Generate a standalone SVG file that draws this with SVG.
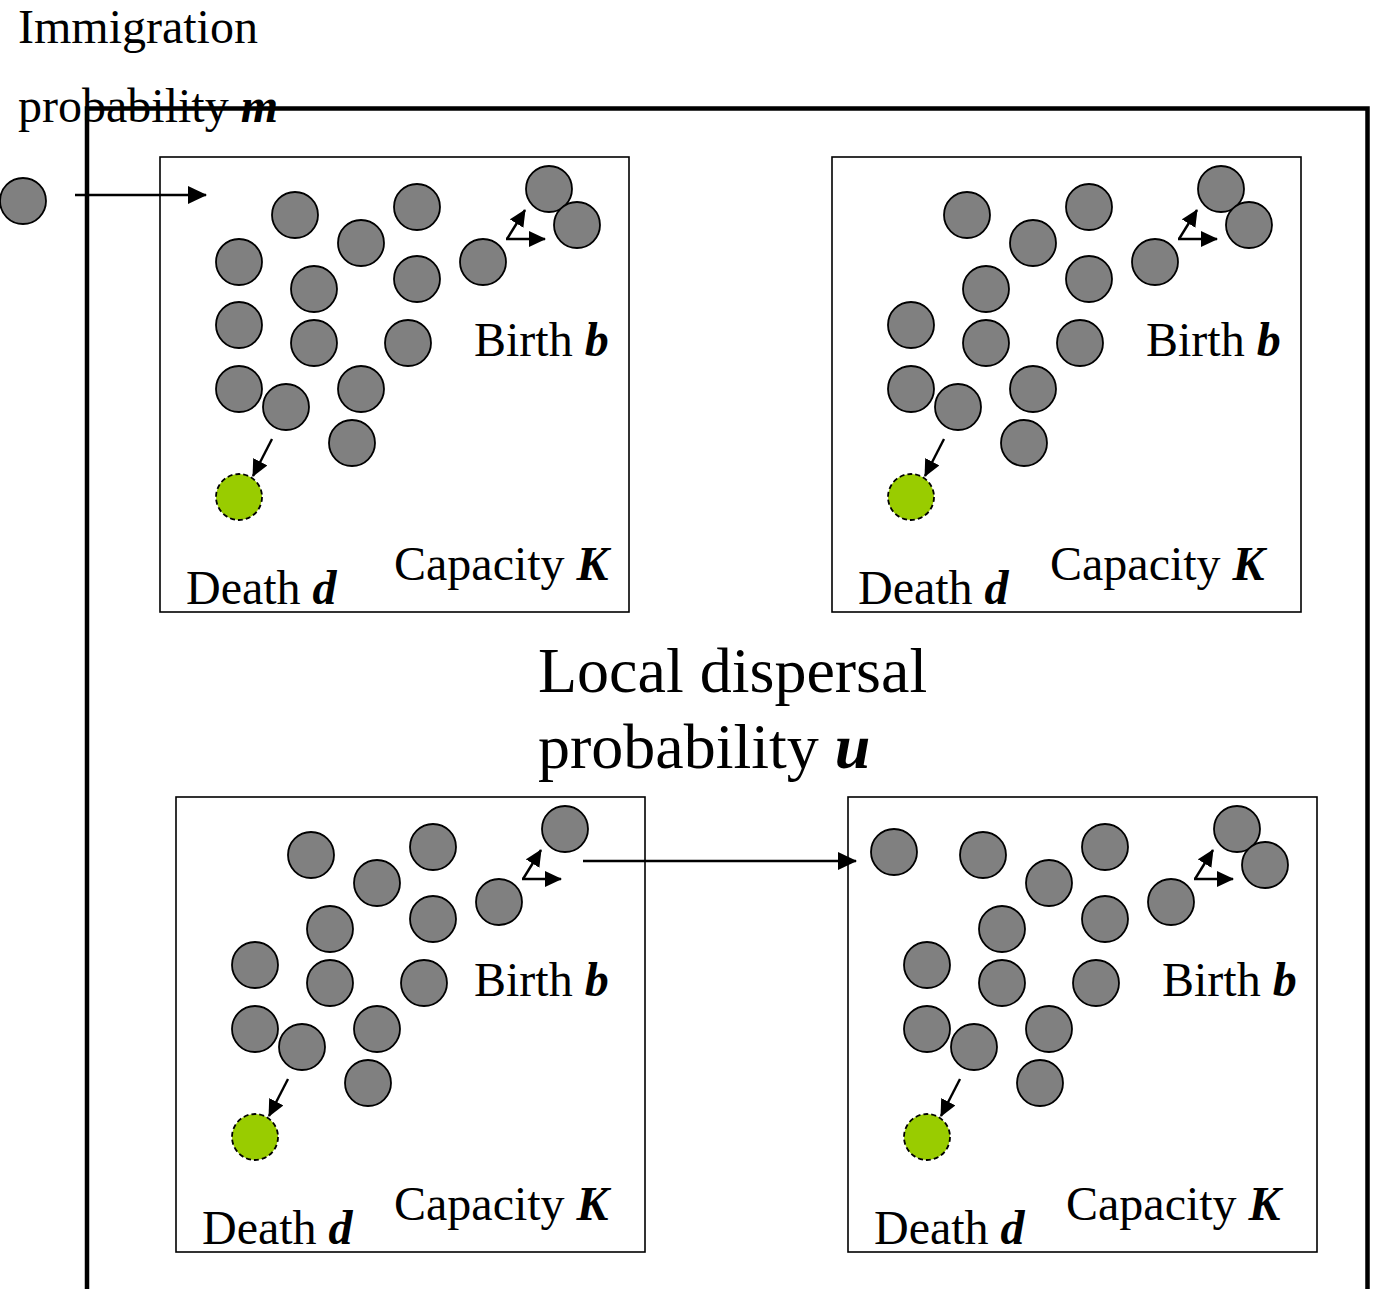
<svg xmlns="http://www.w3.org/2000/svg" width="1377" height="1289" viewBox="0 0 1377 1289">
  <style>
    .ind { fill: #808080; stroke: #000; stroke-width: 1.8; }
    .dead { fill: #99cc00; stroke: #000; stroke-width: 1.8; stroke-dasharray: 5 3; }
    .patch { fill: none; stroke: #000; stroke-width: 1.6; }
    .lbl { font-family: "Liberation Serif", "Times New Roman", serif; font-size: 48px; fill: #000; }
    .big { font-family: "Liberation Serif", "Times New Roman", serif; font-size: 64px; fill: #000; }
    .var { font-weight: bold; font-style: italic; }
    .arr { fill: none; stroke: #000; stroke-width: 2.4; }
  </style>
  <defs>
    <marker id="head" markerUnits="userSpaceOnUse" markerWidth="20" markerHeight="18" refX="18" refY="9" orient="auto" viewBox="0 0 20 18">
      <path d="M0,0 L19,9 L0,18 Z" fill="#000"/>
    </marker>
    <marker id="headS" markerUnits="userSpaceOnUse" markerWidth="18" markerHeight="16" refX="16" refY="8" orient="auto" viewBox="0 0 18 16">
      <path d="M0,0 L17,8 L0,16 Z" fill="#000"/>
    </marker>
  </defs>

  <rect width="1377" height="1289" fill="#fff"/>

  <!-- metacommunity frame -->
  <g id="frame">
    <path d="M87,1289 V108.5 H1367.5 V1289" fill="none" stroke="#000" stroke-width="4.5"/>
  </g>

  <!-- immigration label and immigrant -->
  <g id="immigration">
    <text class="lbl" x="18" y="43" font-size="49">Immigration</text>
    <text class="lbl" x="18" y="122" font-size="49">probability <tspan class="var">m</tspan></text>
  </g>
  <g id="immigrant">
    <circle class="ind" cx="23" cy="201" r="23"/>
  </g>

  <!-- patch 1 (top left) -->
  <g id="patch1">
    <rect class="patch" x="160" y="157" width="469" height="455"/>
    <circle class="ind" cx="295" cy="215" r="23"/>
    <circle class="ind" cx="417" cy="207" r="23"/>
    <circle class="ind" cx="361" cy="243" r="23"/>
    <circle class="ind" cx="239" cy="262" r="23"/>
    <circle class="ind" cx="314" cy="289" r="23"/>
    <circle class="ind" cx="417" cy="279" r="23"/>
    <circle class="ind" cx="483" cy="262" r="23"/>
    <circle class="ind" cx="549" cy="189" r="23"/>
    <circle class="ind" cx="577" cy="225" r="23"/>
    <circle class="ind" cx="239" cy="325" r="23"/>
    <circle class="ind" cx="314" cy="343" r="23"/>
    <circle class="ind" cx="408" cy="343" r="23"/>
    <circle class="ind" cx="239" cy="389" r="23"/>
    <circle class="ind" cx="286" cy="407" r="23"/>
    <circle class="ind" cx="361" cy="389" r="23"/>
    <circle class="ind" cx="352" cy="443" r="23"/>
    <circle class="dead" cx="239" cy="497" r="23"/>
    <text class="lbl" x="474" y="356">Birth <tspan class="var">b</tspan></text>
    <text class="lbl" x="394" y="580">Capacity <tspan class="var">K</tspan></text>
    <text class="lbl" x="186" y="604">Death <tspan class="var">d</tspan></text>
  </g>

  <!-- patch 2 (top right) -->
  <g id="patch2">
    <rect class="patch" x="832" y="157" width="469" height="455"/>
    <circle class="ind" cx="967" cy="215" r="23"/>
    <circle class="ind" cx="1089" cy="207" r="23"/>
    <circle class="ind" cx="1033" cy="243" r="23"/>
    <circle class="ind" cx="986" cy="289" r="23"/>
    <circle class="ind" cx="1089" cy="279" r="23"/>
    <circle class="ind" cx="1155" cy="262" r="23"/>
    <circle class="ind" cx="1221" cy="189" r="23"/>
    <circle class="ind" cx="1249" cy="225" r="23"/>
    <circle class="ind" cx="911" cy="325" r="23"/>
    <circle class="ind" cx="986" cy="343" r="23"/>
    <circle class="ind" cx="1080" cy="343" r="23"/>
    <circle class="ind" cx="911" cy="389" r="23"/>
    <circle class="ind" cx="958" cy="407" r="23"/>
    <circle class="ind" cx="1033" cy="389" r="23"/>
    <circle class="ind" cx="1024" cy="443" r="23"/>
    <circle class="dead" cx="911" cy="497" r="23"/>
    <text class="lbl" x="1146" y="356">Birth <tspan class="var">b</tspan></text>
    <text class="lbl" x="1050" y="580">Capacity <tspan class="var">K</tspan></text>
    <text class="lbl" x="858" y="604">Death <tspan class="var">d</tspan></text>
  </g>

  <!-- central label -->
  <g id="dispersal">
    <text class="big" x="538" y="692">Local dispersal</text>
    <text class="big" x="538" y="768">probability <tspan class="var">u</tspan></text>
  </g>

  <!-- patch 3 (bottom left) -->
  <g id="patch3">
    <rect class="patch" x="176" y="797" width="469" height="455"/>
    <circle class="ind" cx="311" cy="855" r="23"/>
    <circle class="ind" cx="433" cy="847" r="23"/>
    <circle class="ind" cx="377" cy="883" r="23"/>
    <circle class="ind" cx="330" cy="929" r="23"/>
    <circle class="ind" cx="433" cy="919" r="23"/>
    <circle class="ind" cx="499" cy="902" r="23"/>
    <circle class="ind" cx="565" cy="829" r="23"/>
    <circle class="ind" cx="255" cy="965" r="23"/>
    <circle class="ind" cx="330" cy="983" r="23"/>
    <circle class="ind" cx="424" cy="983" r="23"/>
    <circle class="ind" cx="255" cy="1029" r="23"/>
    <circle class="ind" cx="302" cy="1047" r="23"/>
    <circle class="ind" cx="377" cy="1029" r="23"/>
    <circle class="ind" cx="368" cy="1083" r="23"/>
    <circle class="dead" cx="255" cy="1137" r="23"/>
    <text class="lbl" x="474" y="996">Birth <tspan class="var">b</tspan></text>
    <text class="lbl" x="394" y="1220">Capacity <tspan class="var">K</tspan></text>
    <text class="lbl" x="202" y="1244">Death <tspan class="var">d</tspan></text>
  </g>

  <!-- patch 4 (bottom right) -->
  <g id="patch4">
    <rect class="patch" x="848" y="797" width="469" height="455"/>
    <circle class="ind" cx="894" cy="852" r="23"/>
    <circle class="ind" cx="983" cy="855" r="23"/>
    <circle class="ind" cx="1105" cy="847" r="23"/>
    <circle class="ind" cx="1049" cy="883" r="23"/>
    <circle class="ind" cx="1002" cy="929" r="23"/>
    <circle class="ind" cx="1105" cy="919" r="23"/>
    <circle class="ind" cx="1171" cy="902" r="23"/>
    <circle class="ind" cx="1237" cy="829" r="23"/>
    <circle class="ind" cx="1265" cy="865" r="23"/>
    <circle class="ind" cx="927" cy="965" r="23"/>
    <circle class="ind" cx="1002" cy="983" r="23"/>
    <circle class="ind" cx="1096" cy="983" r="23"/>
    <circle class="ind" cx="927" cy="1029" r="23"/>
    <circle class="ind" cx="974" cy="1047" r="23"/>
    <circle class="ind" cx="1049" cy="1029" r="23"/>
    <circle class="ind" cx="1040" cy="1083" r="23"/>
    <circle class="dead" cx="927" cy="1137" r="23"/>
    <text class="lbl" x="1162" y="996">Birth <tspan class="var">b</tspan></text>
    <text class="lbl" x="1066" y="1220">Capacity <tspan class="var">K</tspan></text>
    <text class="lbl" x="874" y="1244">Death <tspan class="var">d</tspan></text>
  </g>

  <!-- connectors: immigration, dispersal, birth and death events -->
  <g id="connectors">
    <line class="arr" x1="75" y1="195" x2="206" y2="195" marker-end="url(#head)"/>
    <line class="arr" x1="583" y1="861" x2="856" y2="861" stroke-width="2.8" marker-end="url(#head)"/>

    <!-- birth: two offspring arrows from a shared corner -->
    <line class="arr" x1="507" y1="239" x2="525" y2="210" marker-end="url(#headS)"/>
    <line class="arr" x1="506" y1="239" x2="545" y2="239" marker-end="url(#headS)"/>
    <line class="arr" x1="1179" y1="239" x2="1197" y2="210" marker-end="url(#headS)"/>
    <line class="arr" x1="1178" y1="239" x2="1217" y2="239" marker-end="url(#headS)"/>
    <line class="arr" x1="523" y1="879" x2="541" y2="850" marker-end="url(#headS)"/>
    <line class="arr" x1="522" y1="879" x2="561" y2="879" marker-end="url(#headS)"/>
    <line class="arr" x1="1195" y1="879" x2="1213" y2="850" marker-end="url(#headS)"/>
    <line class="arr" x1="1194" y1="879" x2="1233" y2="879" marker-end="url(#headS)"/>

    <!-- death -->
    <line class="arr" x1="272" y1="439" x2="253" y2="476" marker-end="url(#headS)"/>
    <line class="arr" x1="944" y1="439" x2="925" y2="476" marker-end="url(#headS)"/>
    <line class="arr" x1="288" y1="1079" x2="269" y2="1116" marker-end="url(#headS)"/>
    <line class="arr" x1="960" y1="1079" x2="941" y2="1116" marker-end="url(#headS)"/>
  </g>
</svg>
